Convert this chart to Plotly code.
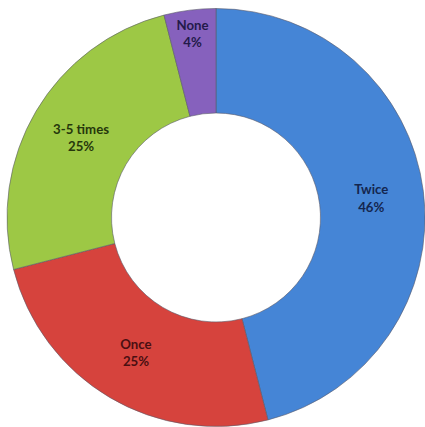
import plotly.graph_objects as go

# Response categories and their shares (percent)
categories = ["Twice", "Once", "3-5 times", "None"]
shares = [46, 25, 25, 4]

slice_colors = ["#4585d6", "#d6433d", "#9dc845", "#8661bd"]
label_colors = ["#14264f", "#4a0f12", "#26370c", "#231a4a"]

fig = go.Figure(
    go.Pie(
        labels=categories,
        values=shares,
        hole=0.50,
        sort=False,
        direction="clockwise",
        rotation=0,
        marker=dict(colors=slice_colors, line=dict(color="#5a5a6a", width=0.6)),
        texttemplate="<b>%{label}</b><br><b>%{percent:.0%}</b>",
        textposition="inside",
        insidetextorientation="horizontal",
        textfont=dict(family="Lato", size=14, color=label_colors),
        showlegend=False,
        hoverinfo="label+percent",
        domain=dict(x=[7 / 425, 1.0], y=[0.0, 1 - 8 / 427]),
    )
)

fig.update_layout(
    width=425,
    height=427,
    margin=dict(l=0, r=0, t=0, b=0),
    paper_bgcolor="white",
    plot_bgcolor="white",
    uniformtext=dict(minsize=10, mode="show"),
)

fig.write_html("out.html")
